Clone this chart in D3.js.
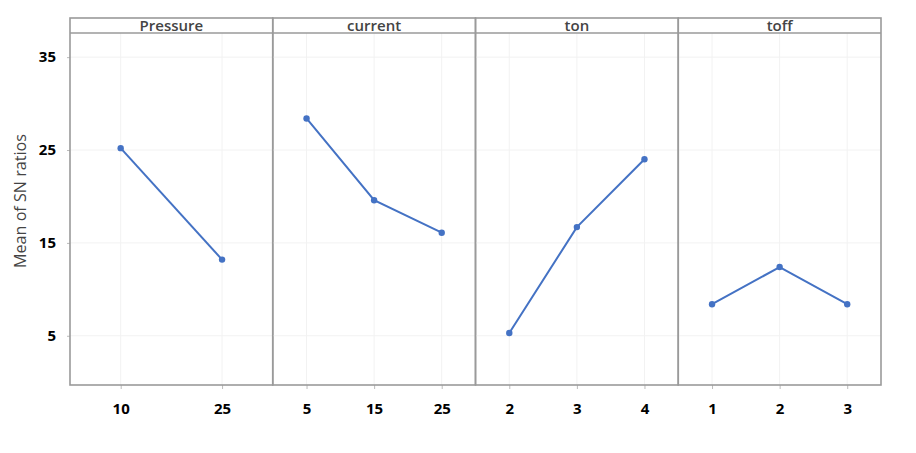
<!DOCTYPE html>
<html>
<head>
<meta charset="utf-8">
<script src="https://cdn.jsdelivr.net/npm/d3@7"></script>
<style>
  body { margin: 0; background: #fff; }
  svg { display: block; }
</style>
</head>
<body>
<svg id="chart" width="916" height="453"></svg>
<script>
// ---- data ----
const factors = ["Pressure", "current", "ton", "toff"];
const pressureLevels = ["10", "25"];
const pressureMeans = [25.2, 13.2];
const currentLevels = ["5", "15", "25"];
const currentMeans = [28.4, 19.6, 16.1];
const tonLevels = ["2", "3", "4"];
const tonMeans = [5.3, 16.7, 24.0];
const toffLevels = ["1", "2", "3"];
const toffMeans = [8.4, 12.4, 8.4];
const yTicks = [5, 15, 25, 35];
const yTitle = "Mean of SN ratios";

const panels = [
  { name: factors[0], levels: pressureLevels, values: pressureMeans },
  { name: factors[1], levels: currentLevels, values: currentMeans },
  { name: factors[2], levels: tonLevels, values: tonMeans },
  { name: factors[3], levels: toffLevels, values: toffMeans }
];

// ---- layout ----
const svg = d3.select("#chart");
const mLeft = 70, mRight = 881, mTop = 18, stripH = 15, mBottom = 385;
const plotTop = mTop + stripH;
const frameColor = "#9a9a9a";
const lineColor = "#4472c4";

const y = d3.scaleLinear().domain([-0.3, 37.6]).range([mBottom, plotTop]);

const panelX = d3.scaleBand().domain(factors).range([mLeft, mRight]).paddingInner(0).paddingOuter(0);
const pw = panelX.bandwidth();

const g = svg.append("g");

// y axis labels
const yAxis = d3.axisLeft(y).tickValues(yTicks).tickSize(3).tickFormat(d3.format("d"));
const ya = g.append("g").attr("transform", `translate(${mLeft},0)`).call(yAxis);
ya.select(".domain").remove();
ya.selectAll(".tick line").attr("stroke", "#bbb");
ya.selectAll(".tick text")
  .attr("x", -14)
  .attr("font-family", "Open Sans, sans-serif")
  .attr("font-weight", "bold")
  .attr("font-size", 15)
  .attr("fill", "#000");

// y title
g.append("text")
  .attr("transform", `translate(26,${(plotTop + mBottom) / 2 - 8}) rotate(-90)`)
  .attr("text-anchor", "middle")
  .attr("font-family", "Open Sans, sans-serif")
  .attr("font-size", 17)
  .attr("fill", "#444")
  .attr("textLength", 134)
  .attr("lengthAdjust", "spacingAndGlyphs")
  .text(yTitle);

panels.forEach((p, i) => {
  const x0 = panelX(p.name);
  const x = d3.scalePoint().domain(p.levels).range([x0, x0 + pw]).padding(0.5);
  const pg = g.append("g");

  // faint grid
  pg.selectAll("line.vg").data(p.levels).join("line")
    .attr("class", "vg")
    .attr("x1", d => x(d)).attr("x2", d => x(d))
    .attr("y1", plotTop).attr("y2", mBottom)
    .attr("stroke", "#f2f2f2").attr("stroke-width", 1);
  pg.selectAll("line.hg").data(yTicks).join("line")
    .attr("class", "hg")
    .attr("x1", x0).attr("x2", x0 + pw)
    .attr("y1", d => y(d)).attr("y2", d => y(d))
    .attr("stroke", "#f2f2f2").attr("stroke-width", 1);

  // x axis
  const xa = pg.append("g").attr("transform", `translate(0,${mBottom})`)
    .call(d3.axisBottom(x).tickSize(4).tickPadding(14));
  xa.select(".domain").remove();
  xa.selectAll(".tick line").attr("stroke", "#bbb");
  xa.selectAll(".tick text")
    .attr("font-family", "Open Sans, sans-serif")
    .attr("font-weight", "bold")
    .attr("font-size", 15)
    .attr("fill", "#000");

  // line and points
  const pts = p.levels.map((l, k) => ({ l, v: p.values[k] }));
  pg.append("path")
    .datum(pts)
    .attr("fill", "none")
    .attr("stroke", lineColor)
    .attr("stroke-width", 2)
    .attr("d", d3.line().x(d => x(d.l)).y(d => y(d.v)));
  pg.selectAll("circle").data(pts).join("circle")
    .attr("cx", d => x(d.l)).attr("cy", d => y(d.v))
    .attr("r", 3.2).attr("fill", lineColor);

  // panel frame
  pg.append("rect")
    .attr("x", x0).attr("y", mTop).attr("width", pw).attr("height", mBottom - mTop)
    .attr("fill", "none").attr("stroke", frameColor).attr("stroke-width", 1.6);
  // strip
  pg.append("line")
    .attr("x1", x0).attr("x2", x0 + pw).attr("y1", plotTop).attr("y2", plotTop)
    .attr("stroke", frameColor).attr("stroke-width", 1.6);
  pg.append("text")
    .attr("x", x0 + pw / 2).attr("y", mTop + stripH / 2 + 1)
    .attr("dominant-baseline", "middle")
    .attr("text-anchor", "middle")
    .attr("font-family", "Open Sans, sans-serif")
    .attr("font-weight", 600)
    .attr("font-size", 15)
    .attr("fill", "#444")
    .text(p.name);
});
</script>
</body>
</html>
